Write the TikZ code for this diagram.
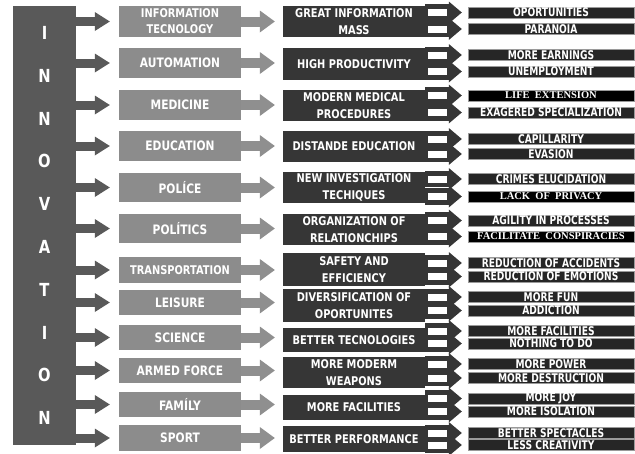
\documentclass[tikz,border=0pt]{standalone}
\usepackage{fontspec}
\setmainfont{DejaVu Sans}
\newfontfamily\boxfont{DejaVu Sans}[FakeStretch=0.82]
\newfontfamily\narrowfont{DejaVu Sans}[FakeStretch=0.76]
\newfontfamily\serifbold{Liberation Serif}
\usetikzlibrary{arrows.meta}

\definecolor{innogray}{HTML}{595959}
\definecolor{areagray}{HTML}{8C8C8C}
\definecolor{arrowgray}{HTML}{8F8F8F}
\definecolor{darkbox}{HTML}{363636}
\definecolor{resbox}{HTML}{262626}
\definecolor{resborder}{HTML}{9A9A9A}

\tikzset{
  inno/.style={fill=innogray, text=white, minimum width=63pt, minimum height=439pt,
    inner sep=0pt, align=center, font=\boxfont\bfseries\fontsize{18}{42.8}\selectfont},
  area/.style={fill=areagray, text=white, minimum width=122pt, inner sep=0pt,
    align=center, font=\boxfont\bfseries\fontsize{13}{16}\selectfont},
  areasmall/.style={area, font=\boxfont\bfseries\fontsize{12}{16}\selectfont},
  effect/.style={fill=darkbox, text=white, minimum width=142pt, inner sep=0pt,
    align=center, font=\boxfont\bfseries\fontsize{12}{16.5}\selectfont},
  result/.style={fill=resbox, draw=resborder, line width=0.4pt, text=white,
    minimum width=166pt, minimum height=11pt, inner sep=0pt,
    font=\narrowfont\bfseries\fontsize{12}{12}\selectfont},
  resultserif/.style={result, fill=black, font=\serifbold\bfseries\fontsize{10.5}{10.5}\selectfont},
  bigarrow/.style={innogray, line width=9pt, shorten >=9pt,
    -{Triangle[length=15pt,width=19pt,line width=0pt]}},
  grayarrow/.style={arrowgray, line width=10pt, shorten >=8pt,
    -{Triangle[length=15pt,width=22pt,line width=0pt]}},
  forkarrow/.style={darkbox, line width=16.5pt, shorten >=6pt,
    -{Triangle[length=13pt,width=22pt,line width=0pt]}},
  forkgap/.style={white, line width=7pt, shorten <=3pt, shorten >=21pt}
}

\begin{document}
\begin{tikzpicture}[x=1pt,y=-1pt]
  \fill[white] (0,0) rectangle (635,453);
  \useasboundingbox (0,0) rectangle (635,453);

  \node[inno] (inno) at (44.5,225.5) {I\\N\\N\\O\\V\\A\\T\\I\\O\\N};

  % areas
  \node[areasmall,minimum height=31pt] (it)    at (180,21.5)  {INFORMATION\\TECNOLOGY};
  \node[area,minimum height=30pt]      (auto)  at (180,63)    {AUTOMATION};
  \node[area,minimum height=30pt]      (med)   at (180,105)   {MEDICINE};
  \node[area,minimum height=30pt]      (edu)   at (180,146)   {EDUCATION};
  \node[area,minimum height=29pt]      (pol)   at (180,187.5) {POLÍCE};
  \node[area,minimum height=29pt]      (polit) at (180,228.5) {POLÍTICS};
  \node[areasmall,minimum height=26pt] (trans) at (180,270)   {TRANSPORTATION};
  \node[area,minimum height=25pt]      (leis)  at (180,302.5) {LEISURE};
  \node[area,minimum height=25pt]      (sci)   at (180,337.5) {SCIENCE};
  \node[area,minimum height=25pt]      (arm)   at (180,370.5) {ARMED FORCE};
  \node[area,minimum height=25pt]      (fam)   at (180,404.5) {FAMÍLY};
  \node[area,minimum height=26pt]      (sport) at (180,438)   {SPORT};

  % effects
  \node[effect,minimum height=31pt] (mass) at (354,21.5)  {GREAT INFORMATION\\MASS};
  \node[effect,minimum height=32pt] (prod) at (354,64)    {HIGH PRODUCTIVITY};
  \node[effect,minimum height=31pt] (proc) at (354,105.5) {MODERN MEDICAL\\PROCEDURES};
  \node[effect,minimum height=31pt] (dist) at (354,146.5) {DISTANDE EDUCATION};
  \node[effect,minimum height=31pt] (tech) at (354,187.5) {NEW INVESTIGATION\\TECHIQUES};
  \node[effect,minimum height=31pt] (org)  at (354,229.5) {ORGANIZATION OF\\RELATIONCHIPS};
  \node[effect,minimum height=33pt] (safe) at (354,269.5) {SAFETY AND\\EFFICIENCY};
  \node[effect,minimum height=33pt] (div)  at (354,305.5) {DIVERSIFICATION OF\\OPORTUNITES};
  \node[effect,minimum height=24pt] (btec) at (354,340)   {BETTER TECNOLOGIES};
  \node[effect,minimum height=31pt] (weap) at (354,372.5) {MORE MODERM\\WEAPONS};
  \node[effect,minimum height=25pt] (fac)  at (354,407.5) {MORE FACILITIES};
  \node[effect,minimum height=26pt] (perf) at (354,439)   {BETTER PERFORMANCE};

  % results
  \node[result]      (opor)   at (551,12.5)  {OPORTUNITIES};
  \node[result]      (para)   at (551,29)    {PARANOIA};
  \node[result]      (earn)   at (551,55)    {MORE EARNINGS};
  \node[result]      (unemp)  at (551,71.5)  {UNEMPLOYMENT};
  \node[resultserif] (life)   at (551,95.5)  {LIFE\ \ EXTENSION};
  \node[result]      (exag)   at (551,112.5) {EXAGERED SPECIALIZATION};
  \node[result]      (capil)  at (551,139)   {CAPILLARITY};
  \node[result]      (evas)   at (551,154)   {EVASION};
  \node[result]      (crim)   at (551,179)   {CRIMES ELUCIDATION};
  \node[resultserif] (priv)   at (551,196.5) {LACK\ \ OF\ \ PRIVACY};
  \node[result]      (agil)   at (551,220.5) {AGILITY IN PROCESSES};
  \node[resultserif] (consp)  at (551,236.5) {FACILITATE\ \ CONSPIRACIES};
  \node[result]      (redacc) at (551,263)   {REDUCTION OF ACCIDENTS};
  \node[result]      (redemo) at (551,276.5) {REDUCTION OF EMOTIONS};
  \node[result]      (fun)    at (551,297)   {MORE FUN};
  \node[result]      (addic)  at (551,310.5) {ADDICTION};
  \node[result]      (mfac)   at (551,331)   {MORE FACILITIES};
  \node[result]      (noth)   at (551,343.5) {NOTHING TO DO};
  \node[result]      (power)  at (551,364)   {MORE POWER};
  \node[result]      (destr)  at (551,378)   {MORE DESTRUCTION};
  \node[result]      (joy)    at (551,398.5) {MORE JOY};
  \node[result]      (isol)   at (551,411.5) {MORE ISOLATION};
  \node[result]      (spect)  at (551,433)   {BETTER SPECTACLES};
  \node[result]      (creat)  at (551,445)   {LESS CREATIVITY};

  \path[bigarrow] (inno.east |- it)    edge (it.west)
                  (inno.east |- auto)  edge (auto.west)
                  (inno.east |- med)   edge (med.west)
                  (inno.east |- edu)   edge (edu.west)
                  (inno.east |- pol)   edge (pol.west)
                  (inno.east |- polit) edge (polit.west)
                  (inno.east |- trans) edge (trans.west)
                  (inno.east |- leis)  edge (leis.west)
                  (inno.east |- sci)   edge (sci.west)
                  (inno.east |- arm)   edge (arm.west)
                  (inno.east |- fam)   edge (fam.west)
                  (inno.east |- sport) edge (sport.west);

  \path[grayarrow] (it.east)    edge (mass.west |- it)
                   (auto.east)  edge (prod.west |- auto)
                   (med.east)   edge (proc.west |- med)
                   (edu.east)   edge (dist.west |- edu)
                   (pol.east)   edge (tech.west |- pol)
                   (polit.east) edge (org.west |- polit)
                   (trans.east) edge (safe.west |- trans)
                   (leis.east)  edge (div.west |- leis)
                   (sci.east)   edge (btec.west |- sci)
                   (arm.east)   edge (weap.west |- arm)
                   (fam.east)   edge (fac.west |- fam)
                   (sport.east) edge (perf.west |- sport);

  \path[forkarrow] (mass.east |- opor)   edge (opor.west)
                   (mass.east |- para)   edge (para.west)
                   (prod.east |- earn)   edge (earn.west)
                   (prod.east |- unemp)  edge (unemp.west)
                   (proc.east |- life)   edge (life.west)
                   (proc.east |- exag)   edge (exag.west)
                   (dist.east |- capil)  edge (capil.west)
                   (dist.east |- evas)   edge (evas.west)
                   (tech.east |- crim)   edge (crim.west)
                   (tech.east |- priv)   edge (priv.west)
                   (org.east |- agil)    edge (agil.west)
                   (org.east |- consp)   edge (consp.west)
                   (safe.east |- redacc) edge (redacc.west)
                   (safe.east |- redemo) edge (redemo.west)
                   (div.east |- fun)     edge (fun.west)
                   (div.east |- addic)   edge (addic.west)
                   (btec.east |- mfac)   edge (mfac.west)
                   (btec.east |- noth)   edge (noth.west)
                   (weap.east |- power)  edge (power.west)
                   (weap.east |- destr)  edge (destr.west)
                   (fac.east |- joy)     edge (joy.west)
                   (fac.east |- isol)    edge (isol.west)
                   (perf.east |- spect)  edge (spect.west)
                   (perf.east |- creat)  edge (creat.west);

  \path[forkgap] (mass.east |- opor)   edge (opor.west)
                 (mass.east |- para)   edge (para.west)
                 (prod.east |- earn)   edge (earn.west)
                 (prod.east |- unemp)  edge (unemp.west)
                 (proc.east |- life)   edge (life.west)
                 (proc.east |- exag)   edge (exag.west)
                 (dist.east |- capil)  edge (capil.west)
                 (dist.east |- evas)   edge (evas.west)
                 (tech.east |- crim)   edge (crim.west)
                 (tech.east |- priv)   edge (priv.west)
                 (org.east |- agil)    edge (agil.west)
                 (org.east |- consp)   edge (consp.west)
                 (safe.east |- redacc) edge (redacc.west)
                 (safe.east |- redemo) edge (redemo.west)
                 (div.east |- fun)     edge (fun.west)
                 (div.east |- addic)   edge (addic.west)
                 (btec.east |- mfac)   edge (mfac.west)
                 (btec.east |- noth)   edge (noth.west)
                 (weap.east |- power)  edge (power.west)
                 (weap.east |- destr)  edge (destr.west)
                 (fac.east |- joy)     edge (joy.west)
                 (fac.east |- isol)    edge (isol.west)
                 (perf.east |- spect)  edge (spect.west)
                 (perf.east |- creat)  edge (creat.west);
\end{tikzpicture}
\end{document}
